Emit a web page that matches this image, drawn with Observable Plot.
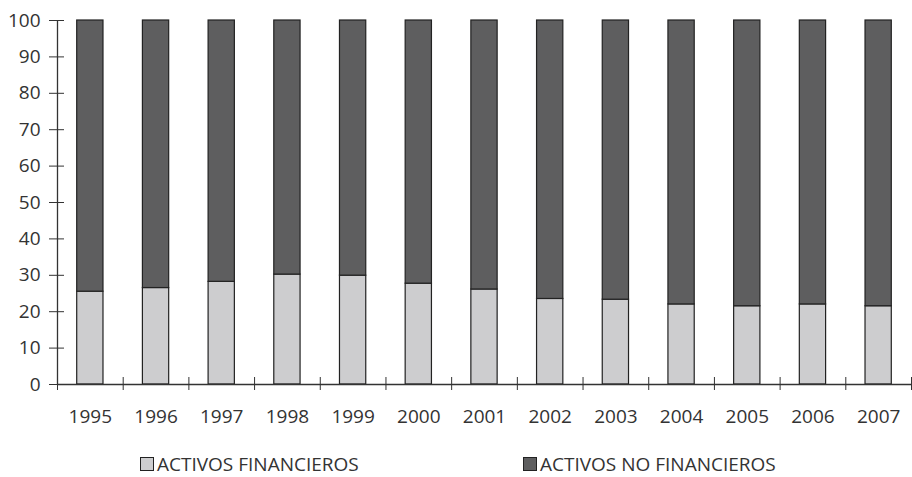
<!DOCTYPE html>
<html>
<head>
<meta charset="utf-8">
<script src="https://cdn.jsdelivr.net/npm/d3@7"></script>
<script src="https://cdn.jsdelivr.net/npm/@observablehq/plot@0.6"></script>
<style>
  html, body { margin: 0; background: #fff; font-family: "Open Sans", sans-serif; overflow: hidden; }
  #legend { position: relative; height: 32px; width: 912px; font-size: 19px; color: #333; }
  .item { position: absolute; top: 8px; height: 22px; line-height: 22px; display: flex; align-items: center; white-space: nowrap; }
  .sw { width: 12px; height: 12px; border: 1px solid #222; margin-right: 3px; }
</style>
</head>
<body>
<div id="chart"></div>
<div id="legend"></div>
<script>
const years = [1995, 1996, 1997, 1998, 1999, 2000, 2001, 2002, 2003, 2004, 2005, 2006, 2007];
const financieros = [25.5, 26.5, 28.2, 30.2, 29.9, 27.7, 26.1, 23.5, 23.3, 22.0, 21.5, 22.0, 21.5];
const noFinancieros = financieros.map(v => 100 - v);
const yTicks = [0, 10, 20, 30, 40, 50, 60, 70, 80, 90, 100];
const seriesNames = ["ACTIVOS FINANCIEROS", "ACTIVOS NO FINANCIEROS"];
const seriesColors = ["#cdcdcf", "#5e5e5f"];

const rows = years.map((y, i) => ({year: y, fin: financieros[i], nofin: noFinancieros[i]}));
const bounds = [years[0] - 0.5, ...years.map(y => y + 0.5)];
const half = 0.2;

const chart = Plot.plot({
  width: 912,
  height: 445,
  marginLeft: 57,
  marginRight: 1,
  marginTop: 20,
  marginBottom: 61,
  style: {fontFamily: "Open Sans, sans-serif", fontSize: "19px", color: "#333", background: "#fff"},
  x: {type: "linear", domain: [bounds[0], bounds[bounds.length - 1]], axis: null},
  y: {domain: [0, 100], axis: null},
  marks: [
    Plot.rectY(rows, {x1: d => d.year - half, x2: d => d.year + half, y1: 0, y2: "fin", fill: seriesColors[0], stroke: "#222", strokeWidth: 1.2}),
    Plot.rectY(rows, {x1: d => d.year - half, x2: d => d.year + half, y1: "fin", y2: d => d.fin + d.nofin, fill: seriesColors[1], stroke: "#222", strokeWidth: 1.2}),
    Plot.ruleY([0], {stroke: "#333", strokeWidth: 1.3}),
    Plot.ruleX([bounds[0]], {y1: 0, y2: 100, stroke: "#333", strokeWidth: 1.3}),
    Plot.axisY({ticks: yTicks, tickSize: 15, dx: 7, tickPadding: 9, label: null, stroke: "#333", fill: "#333", fontSize: 19}),
    Plot.axisX({ticks: bounds, tickSize: 13, dy: -7, tickFormat: () => "", label: null, stroke: "#333"}),
    Plot.text(years, {x: d => d, y: 0, dy: 32, text: d => String(d), lineAnchor: "middle", fill: "#333", fontSize: 19})
  ]
});
document.getElementById("chart").appendChild(chart);

const legend = document.getElementById("legend");
const lefts = [140, 523];
seriesNames.forEach((name, i) => {
  const it = document.createElement("div");
  it.className = "item";
  it.style.left = lefts[i] + "px";
  it.innerHTML = `<span class="sw" style="background:${seriesColors[i]}"></span><span>${name}</span>`;
  legend.appendChild(it);
});
</script>
</body>
</html>
